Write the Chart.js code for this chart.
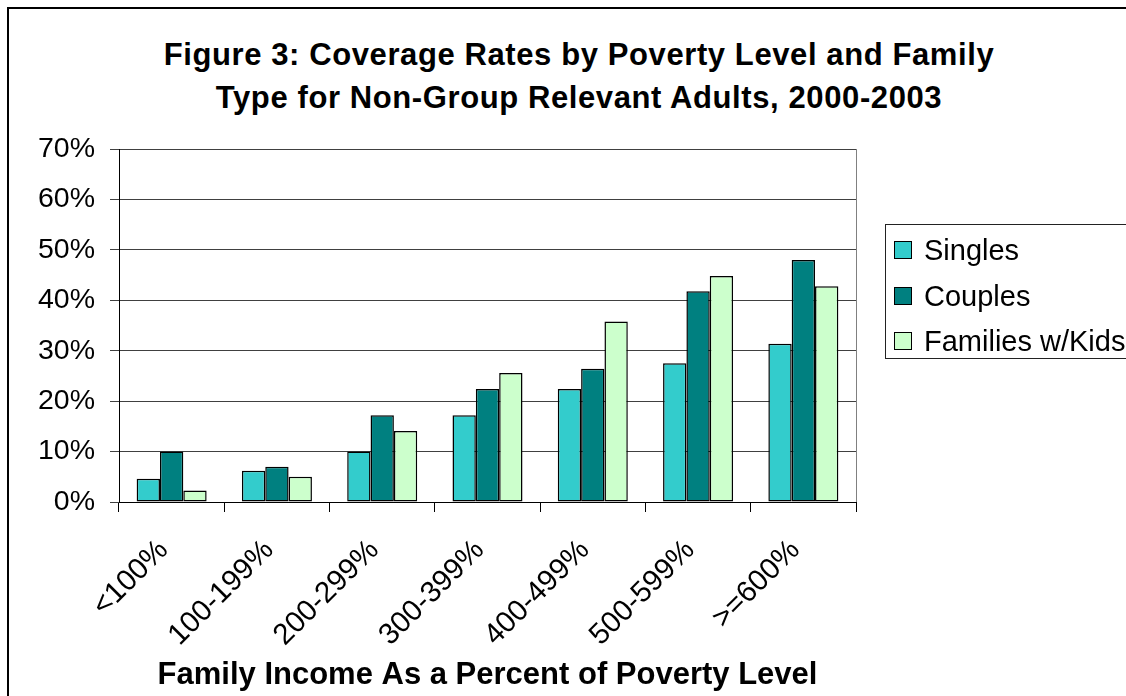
<!DOCTYPE html>
<html>
<head>
<meta charset="utf-8">
<script src="https://cdn.jsdelivr.net/npm/chart.js@4/dist/chart.umd.min.js"></script>
<style>
  html, body { margin: 0; padding: 0; background: #fff; }
  body { width: 1126px; height: 696px; position: relative; overflow: hidden; font-family: "Liberation Sans", Arial, sans-serif; }
  #frame { position: absolute; left: 7px; top: 7px; width: 1200px; height: 800px; border-left: 2px solid #000; border-top: 2px solid #000; }
  #title { position: absolute; left: 0; top: 33px; width: 1158px; text-align: center; font-weight: bold; font-size: 31px; letter-spacing: 0.6px; line-height: 43px; color: #000; }
  #wrap { position: absolute; left: 0; top: 0; width: 1126px; height: 696px; }
  #legend { position: absolute; left: 885px; top: 224px; width: 260px; height: 135px; border: 1px solid #222; box-sizing: border-box; }
  .item { position: absolute; left: 8px; height: 30px; font-size: 29px; line-height: 30px; white-space: nowrap; color: #000; }
  .sw { position: absolute; left: 0; top: 6px; width: 18px; height: 18px; border: 1.5px solid #000; box-sizing: border-box; }
  .lbl { position: absolute; left: 30px; top: 0; }
</style>
</head>
<body>
<div id="frame"></div>
<div id="title">Figure 3: Coverage Rates by Poverty Level and Family<br>Type for Non-Group Relevant Adults, 2000-2003</div>
<div id="wrap"><canvas id="c" width="1126" height="696"></canvas></div>
<div id="legend"></div>
<script>
const categories = ["<100%", "100-199%", "200-299%", "300-399%", "400-499%", "500-599%", ">=600%"];
const seriesNames = ["Singles", "Couples", "Families w/Kids"];
const singles = [4.6, 6.2, 10.0, 17.2, 22.4, 27.5, 31.4];
const couples = [10.0, 7.0, 17.2, 22.4, 26.4, 41.8, 48.0];
const families = [2.3, 5.0, 14.1, 25.6, 35.8, 44.8, 42.8];
const seriesColors = ["#33CCCC", "#008080", "#CCFFCC"];
const yTicks = [0, 10, 20, 30, 40, 50, 60, 70];
const xTitle = "Family Income As a Percent of Poverty Level";

const FONT = "'Liberation Sans', Arial, sans-serif";
const seriesData = [singles, couples, families];

const plotBorder = {
  id: 'plotBorder',
  afterDraw(chart) {
    const a = chart.chartArea, ctx = chart.ctx;
    ctx.save();
    ctx.strokeStyle = '#808080';
    ctx.lineWidth = 1;
    ctx.beginPath();
    ctx.moveTo(Math.round(a.right) + 0.5, a.top);
    ctx.lineTo(Math.round(a.right) + 0.5, a.bottom);
    ctx.stroke();
    ctx.restore();
  }
};

new Chart(document.getElementById('c'), {
  type: 'bar',
  data: {
    labels: categories,
    datasets: seriesNames.map((n, i) => ({
      label: n,
      data: seriesData[i],
      backgroundColor: seriesColors[i],
      borderColor: '#000',
      borderWidth: 1.5,
      borderSkipped: false,
      categoryPercentage: 0.665,
      barPercentage: 1.0
    }))
  },
  options: {
    responsive: false,
    animation: false,
    layout: { padding: { top: 149, left: 0, right: 270, bottom: 0 } },
    plugins: { legend: { display: false }, title: { display: false }, tooltip: { enabled: false } },
    scales: {
      x: {
        grid: { display: true, drawOnChartArea: false, drawTicks: true, tickLength: 10, color: '#000', offset: true },
        border: { color: '#000', width: 1 },
        ticks: { autoSkip: false, maxRotation: 45, minRotation: 45, padding: 21, labelOffset: -8, color: '#000', font: { family: FONT, size: 29.5 } },
        title: { display: true, text: xTitle, color: '#000', font: { family: FONT, size: 31, weight: 'bold' }, padding: { top: 4, bottom: 2 } },
        afterFit(s) { s.height = 194; }
      },
      y: {
        min: 0, max: 70,
        afterBuildTicks(s) { s.ticks = yTicks.map(v => ({ value: v })); },
        grid: { color: '#404040', lineWidth: 1, tickLength: 9, drawTicks: true },
        border: { color: '#000', width: 1 },
        ticks: { padding: 15, color: '#000', font: { family: FONT, size: 28.5 }, callback: v => v + '%' },
        afterFit(s) { s.width = 119; }
      }
    }
  },
  plugins: [plotBorder]
});

const leg = document.getElementById('legend');
const centers = [249, 295, 340];
seriesNames.forEach((n, i) => {
  const it = document.createElement('div');
  it.className = 'item';
  it.style.top = (centers[i] - 224 - 15) + 'px';
  const sw = document.createElement('div');
  sw.className = 'sw';
  sw.style.background = seriesColors[i];
  const lb = document.createElement('span');
  lb.className = 'lbl';
  lb.textContent = n;
  it.appendChild(sw); it.appendChild(lb);
  leg.appendChild(it);
});
</script>
</body>
</html>
